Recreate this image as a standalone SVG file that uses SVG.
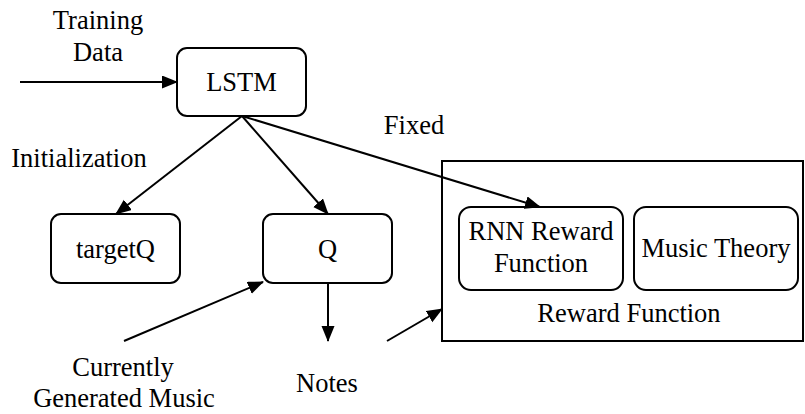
<svg xmlns="http://www.w3.org/2000/svg" width="805" height="414" viewBox="0 0 805 414">
<style>
text{font-family:"Liberation Serif","Times New Roman",serif;font-size:26.5px;fill:#000;text-anchor:middle}
.box{fill:#fff;stroke:#000;stroke-width:2}
.conn{stroke:#000;stroke-width:2;fill:none;marker-end:url(#ah)}
</style>
<defs>
<marker id="ah" markerUnits="userSpaceOnUse" markerWidth="16" markerHeight="14" refX="15" refY="6.5" orient="auto">
<path d="M0,0 L16,6.5 L0,13 z" fill="#000"/>
</marker>
</defs>
<rect width="805" height="414" fill="#fff"/>
<g id="reward">
<rect class="box" x="442" y="161" width="361" height="180"/>
<text x="629" y="322">Reward Function</text>
</g>
<g id="lstm">
<rect class="box" x="177" y="48" width="129" height="68" rx="10"/>
<text x="241.5" y="91">LSTM</text>
</g>
<g id="targetq">
<rect class="box" x="51" y="214" width="129" height="69" rx="10"/>
<text x="115.5" y="258">targetQ</text>
</g>
<g id="q">
<rect class="box" x="263" y="214" width="129" height="69" rx="10"/>
<text x="327.5" y="258">Q</text>
</g>
<g id="rnn">
<rect class="box" x="459" y="207" width="164" height="83" rx="12"/>
<text x="541" y="240">RNN Reward</text>
<text x="541" y="272">Function</text>
</g>
<g id="theory">
<rect class="box" x="634" y="207" width="164" height="83" rx="12"/>
<text x="716" y="257">Music Theory</text>
</g>
<g id="labels">
<text x="98" y="29">Training</text>
<text x="98" y="61">Data</text>
<text x="79" y="167">Initialization</text>
<text x="414" y="134">Fixed</text>
<text x="123" y="376">Currently</text>
<text x="124" y="407">Generated Music</text>
<text x="327" y="392">Notes</text>
</g>
<g id="connectors">
<line class="conn" x1="20" y1="82" x2="177" y2="82"/>
<line class="conn" x1="242" y1="116" x2="116" y2="214"/>
<line class="conn" x1="242" y1="116" x2="328" y2="214"/>
<line class="conn" x1="242" y1="116" x2="540" y2="207"/>
<line class="conn" x1="124" y1="341" x2="263" y2="282"/>
<line class="conn" x1="328" y1="283" x2="328" y2="341"/>
<line class="conn" x1="387" y1="341" x2="442" y2="309"/>
</g>
</svg>
